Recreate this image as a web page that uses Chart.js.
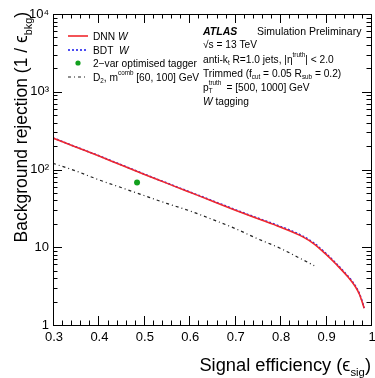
<!DOCTYPE html>
<html>
<head>
<meta charset="utf-8">
<script src="https://cdn.jsdelivr.net/npm/chart.js@4"></script>
<style>
  html, body { margin: 0; padding: 0; background: #fff; }
  #wrap { width: 375px; height: 378px; }
</style>
</head>
<body>
<div id="wrap"><canvas id="rocChart" width="375" height="378"></canvas></div>
<script>
// signal efficiency / background rejection
const dnnEff = [0.30, 0.35, 0.40, 0.45, 0.50, 0.55, 0.60, 0.65, 0.70, 0.75, 0.80, 0.85, 0.875, 0.90, 0.925, 0.95, 0.965, 0.975, 0.985];
const dnnRej = [254, 195, 150, 114, 87, 66.8, 51.3, 39.4, 30.2, 23.4, 18.2, 13.6, 11.0, 8.2, 5.9, 4.1, 3.15, 2.45, 1.64];
const bdtEff = [0.30, 0.35, 0.40, 0.45, 0.50, 0.55, 0.60, 0.65, 0.70, 0.75, 0.80, 0.85, 0.875, 0.90, 0.925, 0.95, 0.965, 0.975, 0.985];
const bdtRej = [255, 196, 151, 115, 87.6, 67.3, 51.8, 39.9, 30.6, 23.8, 18.6, 13.9, 11.25, 8.4, 6.05, 4.2, 3.22, 2.5, 1.66];
const twoVarEff = [0.485];
const twoVarRej = [68];
const d2Eff = [0.30, 0.35, 0.40, 0.45, 0.50, 0.55, 0.60, 0.65, 0.70, 0.75, 0.80, 0.85, 0.875];
const d2Rej = [120, 96, 74, 58.6, 46.3, 36.7, 29.5, 22.9, 17.5, 12.9, 9.7, 6.9, 5.8];

const xTickLabels = ['0.3', '0.4', '0.5', '0.6', '0.7', '0.8', '0.9', '1'];
const yTickLabels = { 1: '1', 10: '10', 100: '10²', 1000: '10³', 10000: '10⁴' };

const FONT = '"Liberation Sans", Arial, Helvetica, sans-serif';

const toPoints = (xs, ys) => xs.map((x, i) => ({ x: x, y: ys[i] }));

// draws a run of text pieces: [text, kind] with kind n / i / bi / sub / sup
function drawRich(ctx, parts, x, y, size) {
    let cx = x;
    parts.forEach(([txt, kind]) => {
        let fs = size, dy = 0, style = '';
        if (kind === 'sub') { fs = size * 0.62; dy = size * 0.3; }
        if (kind === 'sup') { fs = size * 0.62; dy = -size * 0.42; }
        if (kind === 'i') style = 'italic ';
        if (kind === 'bi') style = 'italic bold ';
        ctx.font = style + fs + 'px ' + FONT;
        ctx.fillText(txt, cx, y + dy);
        cx += ctx.measureText(txt).width;
    });
    return cx;
}

function richWidth(ctx, parts, size) {
    let w = 0;
    parts.forEach(([t, k]) => {
        const fs = (k === 'sub' || k === 'sup') ? size * 0.62 : size;
        ctx.font = fs + 'px ' + FONT;
        w += ctx.measureText(t).width;
    });
    return w;
}

const framePlugin = {
    id: 'frame',
    afterDraw(chart) {
        const { ctx, chartArea: a, scales } = chart;
        const xs = scales.x, ys = scales.y;
        ctx.save();
        ctx.strokeStyle = '#000';
        ctx.lineWidth = 1;
        ctx.strokeRect(a.left + 0.5, a.top + 0.5, a.right - a.left, a.bottom - a.top);

        // inward ticks, ROOT style, on all four sides
        ctx.beginPath();
        for (let i = 0; i <= 35; i++) {
            const v = 0.3 + i * 0.02;
            const px = Math.round(xs.getPixelForValue(v)) + 0.5;
            const len = i % 5 === 0 ? 9 : 4.5;
            ctx.moveTo(px, a.bottom); ctx.lineTo(px, a.bottom - len);
            ctx.moveTo(px, a.top); ctx.lineTo(px, a.top + len);
        }
        for (let d = 0; d < 4; d++) {
            for (let m = 1; m <= 10; m++) {
                const v = Math.pow(10, d) * m;
                const py = Math.round(ys.getPixelForValue(v)) + 0.5;
                const len = (m === 1 || m === 10) ? 9 : 4.5;
                ctx.moveTo(a.left, py); ctx.lineTo(a.left + len, py);
                ctx.moveTo(a.right, py); ctx.lineTo(a.right - len, py);
            }
        }
        ctx.stroke();

        // x tick labels, the last one runs off the canvas edge
        ctx.fillStyle = '#000';
        ctx.textAlign = 'center';
        ctx.textBaseline = 'top';
        ctx.font = '13px ' + FONT;
        xTickLabels.forEach(t => ctx.fillText(t, xs.getPixelForValue(Number(t)) + 1, a.bottom + 6));
        ctx.textAlign = 'left';

        // legend, built from the datasets
        ctx.textBaseline = 'middle';
        const lx = 68, ly = [36, 50, 63, 77];
        chart.data.datasets.forEach((ds, i) => {
            const y = ly[i];
            if (ds.showLine === false) {
                ctx.beginPath();
                ctx.fillStyle = ds.backgroundColor;
                ctx.arc(lx + 10, y, 2.6, 0, Math.PI * 2);
                ctx.fill();
                ctx.fillStyle = '#000';
            } else {
                ctx.beginPath();
                ctx.strokeStyle = ds.borderColor;
                ctx.lineWidth = ds.borderWidth;
                ctx.setLineDash(ds.borderDash || []);
                ctx.moveTo(lx, y); ctx.lineTo(lx + 20, y);
                ctx.stroke();
                ctx.setLineDash([]);
            }
            drawRich(ctx, ds.legendParts, lx + 25, y + 1, 10.2);
        });

        // ATLAS label block
        const tx = 203, fs = 10.2;
        drawRich(ctx, [['ATLAS', 'bi']], tx, 32, 10.5);
        drawRich(ctx, [['Simulation Preliminary', 'n']], 257, 32, 10.5);
        drawRich(ctx, [['√s = 13 TeV', 'n']], tx, 45, fs);
        drawRich(ctx, [['anti-k', 'n'], ['t', 'sub'], [' R=1.0 jets, |η', 'n'], ['truth', 'sup'], ['| < 2.0', 'n']], tx, 60, fs);
        drawRich(ctx, [['Trimmed (f', 'n'], ['cut', 'sub'], [' = 0.05 R', 'n'], ['sub', 'sub'], [' = 0.2)', 'n']], tx, 74, fs);
        let px = drawRich(ctx, [['p', 'n']], tx, 88, fs);
        drawRich(ctx, [['T', 'sub']], px, 88, fs);
        drawRich(ctx, [['truth', 'sup']], px, 88, fs);
        drawRich(ctx, [[' = [500, 1000] GeV', 'n']], px + 15, 88, fs);
        px = drawRich(ctx, [['W', 'i']], tx, 102, fs);
        drawRich(ctx, [[' tagging', 'n']], px, 102, fs);

        // axis titles, right aligned like ROOT
        ctx.textBaseline = 'alphabetic';
        const xParts = [['Signal efficiency (ϵ', 'n'], ['sig', 'sub'], [')', 'n']];
        drawRich(ctx, xParts, a.right - richWidth(ctx, xParts, 18.3), 371, 18.3);

        const yParts = [['Background rejection (1 / ϵ', 'n'], ['bkg', 'sub'], [')', 'n']];
        ctx.translate(27, a.top - 2 + richWidth(ctx, yParts, 17.5));
        ctx.rotate(-Math.PI / 2);
        drawRich(ctx, yParts, 0, 0, 17.5);
        ctx.restore();
    }
};

new Chart(document.getElementById('rocChart'), {
    type: 'line',
    data: {
        datasets: [
            {
                label: 'DNN W',
                legendParts: [['DNN ', 'n'], ['W', 'i']],
                data: toPoints(dnnEff, dnnRej),
                borderColor: '#f0282d',
                borderWidth: 1.6,
                pointRadius: 0,
                cubicInterpolationMode: 'monotone'
            },
            {
                label: 'BDT W',
                legendParts: [['BDT  ', 'n'], ['W', 'i']],
                data: toPoints(bdtEff, bdtRej),
                borderColor: '#2222ee',
                borderWidth: 1.6,
                borderDash: [2, 2],
                pointRadius: 0,
                cubicInterpolationMode: 'monotone'
            },
            {
                label: '2-var optimised tagger',
                legendParts: [['2−var optimised tagger', 'n']],
                data: toPoints(twoVarEff, twoVarRej),
                showLine: false,
                backgroundColor: '#12a01e',
                borderColor: '#12a01e',
                pointRadius: 3,
                pointBorderWidth: 0
            },
            {
                label: 'D2, m^comb [60, 100] GeV',
                legendParts: [['D', 'n'], ['2', 'sub'], [', m', 'n'], ['comb', 'sup'], [' [60, 100] GeV', 'n']],
                data: toPoints(d2Eff, d2Rej),
                borderColor: '#222',
                borderWidth: 1.2,
                borderDash: [3, 3, 1, 3],
                pointRadius: 0,
                cubicInterpolationMode: 'monotone'
            }
        ]
    },
    options: {
        responsive: false,
        animation: false,
        layout: { padding: { top: 14, right: 2, left: 0, bottom: 0 } },
        plugins: {
            legend: { display: false },
            tooltip: { enabled: false }
        },
        scales: {
            x: {
                type: 'linear',
                min: 0.3,
                max: 1,
                afterFit: scale => { scale.height = 53; },
                grid: { display: false, drawTicks: false },
                border: { display: false },
                ticks: { display: false }
            },
            y: {
                type: 'logarithmic',
                min: 1,
                max: 10000,
                afterFit: scale => { scale.width = 53; },
                afterBuildTicks: scale => { scale.ticks = Object.keys(yTickLabels).map(v => ({ value: Number(v) })); },
                grid: { display: false, drawTicks: false },
                border: { display: false },
                ticks: {
                    color: '#000',
                    padding: 4,
                    autoSkip: false,
                    font: { family: FONT, size: 13 },
                    callback: v => yTickLabels[v] || ''
                }
            }
        }
    },
    plugins: [framePlugin]
});
</script>
</body>
</html>
